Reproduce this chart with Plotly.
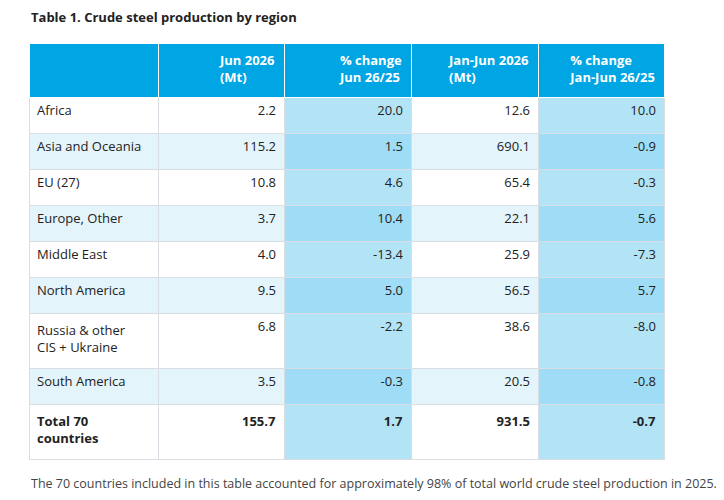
import plotly.graph_objects as go

# Table data
regions = ['Africa', 'Asia and Oceania', 'EU (27)', 'Europe, Other', 'Middle East',
           'North America', 'Russia & other<br>CIS + Ukraine', 'South America',
           '<b>Total 70<br>countries</b>']
jun_2026 = ['2.2', '115.2', '10.8', '3.7', '4.0', '9.5', '6.8', '3.5', '<b>155.7</b>']
chg_jun = ['20.0', '1.5', '4.6', '10.4', '-13.4', '5.0', '-2.2', '-0.3', '<b>1.7</b>']
jan_jun_2026 = ['12.6', '690.1', '65.4', '22.1', '25.9', '56.5', '38.6', '20.5', '<b>931.5</b>']
chg_jan_jun = ['10.0', '-0.9', '-0.3', '5.6', '-7.3', '5.7', '-8.0', '-0.8', '<b>-0.7</b>']
headers = ['', '<b>Jun 2026<br>(Mt)</b>', '<b>% change<br>Jun 26/25</b>',
           '<b>Jan-Jun 2026<br>(Mt)</b>', '<b>% change<br>Jan-Jun 26/25</b>']

W, H = 724, 500
OFF = 8  # page body margin shifts the figure by this much
n = len(regions)

plain = ['#ffffff' if i % 2 == 0 else '#e4f4fb' for i in range(n)]
shaded = ['#b3e4f6' if i % 2 == 0 else '#9fdcf5' for i in range(n)]

# a tall invisible trailing space makes the wrapped rows a bit taller
# (only on labels that already carry <br>, so the table does not re-wrap them)
labels = [r + '<span style="font-size:29px"> </span>' if '<br>' in r else r for r in regions]

fig = go.Figure(go.Table(
    domain=dict(x=[(29 - OFF) / W, (664 - OFF) / W], y=[0, 1 - (43 - OFF) / H]),
    columnwidth=[129, 126, 127, 127, 126],
    header=dict(
        values=headers,
        fill_color='#00a5e3',
        line_color='#ffffff',
        align=['left', 'right', 'right', 'right', 'right'],
        font=dict(family='Open Sans', size=13, color='#ffffff'),
        height=54,
    ),
    cells=dict(
        values=[labels, jun_2026, chg_jun, jan_jun_2026, chg_jan_jun],
        fill_color=[plain, plain, shaded, plain, shaded],
        line_color='#d8dee3',
        align=['left', 'right', 'right', 'right', 'right'],
        font=dict(family='Open Sans', size=13, color='#222222'),
        height=36,
    ),
))

fig.add_annotation(
    text='<b>Table 1. Crude steel production by region</b>',
    x=(29 - OFF) / W, y=1 - (17 - OFF) / H, xref='paper', yref='paper',
    xanchor='left', yanchor='middle', showarrow=False,
    font=dict(family='Open Sans', size=13, color='#222222'),
)
fig.add_annotation(
    text='The 70 countries included in this table accounted for approximately 98% '
         'of total world crude steel production in 2025.',
    x=(29 - OFF) / W, y=1 - (483 - OFF) / H, xref='paper', yref='paper',
    xanchor='left', yanchor='middle', showarrow=False,
    font=dict(family='Open Sans', size=12.5, color='#444444'),
)

fig.update_layout(
    width=W, height=H,
    margin=dict(l=0, r=0, t=0, b=0),
    paper_bgcolor='#ffffff',
    plot_bgcolor='#ffffff',
)

fig.write_html('out.html')
